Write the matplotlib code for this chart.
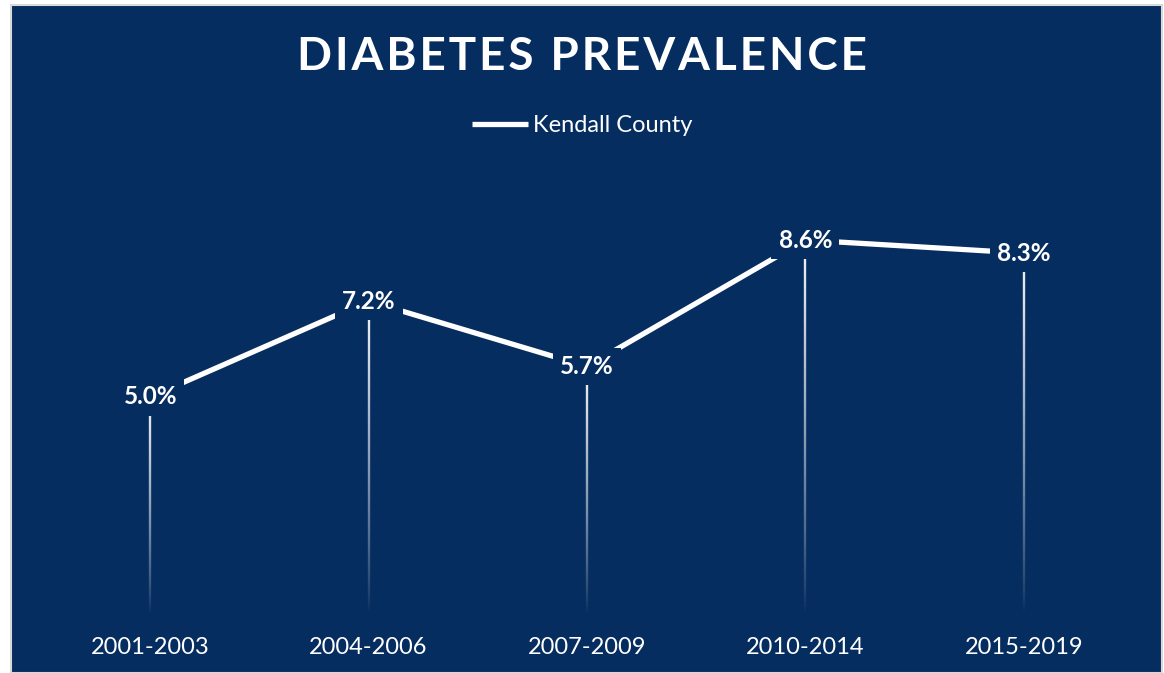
import matplotlib.pyplot as plt
import numpy as np
from matplotlib.collections import LineCollection
from matplotlib.patches import Rectangle

plt.rcParams['font.family'] = ['Lato', 'DejaVu Sans']

periods = ['2001-2003', '2004-2006', '2007-2009', '2010-2014', '2015-2019']
prevalence = [5.0, 7.2, 5.7, 8.6, 8.3]
labels = ['5.0%', '7.2%', '5.7%', '8.6%', '8.3%']
series_name = 'Kendall County'
title = 'DIABETES PREVALENCE'

navy = '#062d5f'
W, H = 1164, 673
fig = plt.figure(figsize=(W / 100, H / 100), dpi=100)
fig.patch.set_facecolor('white')
fig.patches.append(Rectangle((11 / W, 0), 1151 / W, 668 / H, transform=fig.transFigure,
                             facecolor=navy, edgecolor='#d9d9d9', linewidth=1.5, zorder=-1))

ax = fig.add_axes([41 / W, 58 / H, 1092 / W, 436 / H])
ax.set_facecolor('none')
x = np.arange(len(periods))

# drop lines fading out towards the bottom
for xi, v in zip(x, prevalence):
    ys = np.linspace(v, 0, 80)
    segs = [[(xi, ys[i]), (xi, ys[i + 1])] for i in range(len(ys) - 1)]
    alphas = np.linspace(0.95, 0.0, len(segs)) ** 0.8
    cols = [(1, 1, 1, a) for a in alphas]
    ax.add_collection(LineCollection(segs, colors=cols, linewidths=1.7, zorder=1))

ax.plot(x, prevalence, color='white', linewidth=3.8, solid_capstyle='butt', zorder=2, label=series_name)

for xi, v, t in zip(x, prevalence, labels):
    ax.text(xi, v, t, ha='center', va='center', color='white', fontsize=17.5, fontweight='bold', zorder=4,
            bbox=dict(boxstyle='square,pad=0.3', facecolor=navy, edgecolor='none'))

ax.set_xlim(-0.5, 4.5)
ax.set_ylim(0, 10)
ax.set_xticks(x)
ax.set_xticklabels(periods, color='white', fontsize=17)
ax.tick_params(axis='x', length=0, pad=16)
ax.set_yticks([])
for s in ax.spines.values():
    s.set_visible(False)

fig.text(0.5, (673 - 57) / H, '\u200a'.join(title), ha='center', va='center', color='white',
         fontsize=33, fontweight='bold')

leg = ax.legend(loc='center', bbox_to_anchor=(0.5, (673 - 126) / H), bbox_transform=fig.transFigure,
                frameon=False, fontsize=17, handlelength=2.4, handletextpad=0.2)
for t in leg.get_texts():
    t.set_color('white')

fig.savefig('out.png', dpi=100, facecolor=fig.get_facecolor())
